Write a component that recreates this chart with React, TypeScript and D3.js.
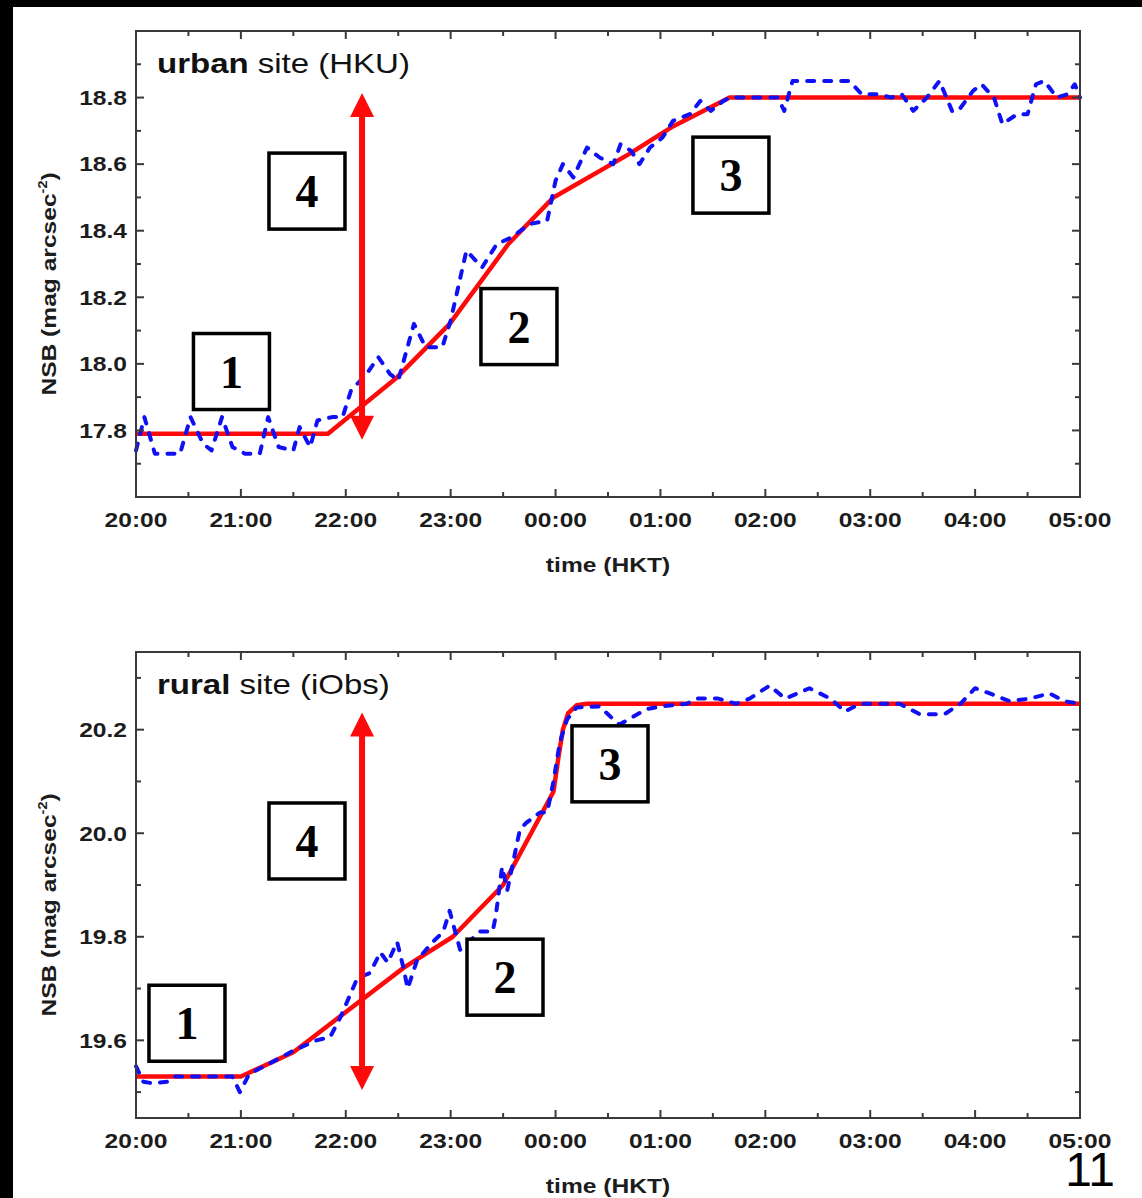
import React from 'react';
import * as d3 from 'd3';

// Hour tick labels (hours after 20:00 HKT)
const hourLabels = ['20:00', '21:00', '22:00', '23:00', '00:00', '01:00', '02:00', '03:00', '04:00', '05:00'];

// Urban site (HKU): measured NSB, [hours after 20:00, mag arcsec^-2]
const urbanObserved: [number, number][] = [
  [0, 17.74], [0.08, 17.84], [0.18, 17.73], [0.42, 17.73], [0.52, 17.84],
  [0.64, 17.76], [0.72, 17.74], [0.82, 17.84], [0.92, 17.75], [1.04, 17.73],
  [1.18, 17.73], [1.26, 17.84], [1.36, 17.75], [1.5, 17.74], [1.56, 17.81],
  [1.66, 17.75], [1.73, 17.83], [1.87, 17.84], [1.97, 17.84], [2.05, 17.92],
  [2.2, 17.97], [2.31, 18.02], [2.42, 17.97], [2.5, 17.95], [2.65, 18.12],
  [2.76, 18.05], [2.92, 18.05], [3.0, 18.13], [3.15, 18.34], [3.3, 18.29],
  [3.44, 18.36], [3.58, 18.38], [3.75, 18.42], [3.92, 18.43], [4.0, 18.55],
  [4.07, 18.6], [4.17, 18.56], [4.3, 18.65], [4.42, 18.62], [4.55, 18.6],
  [4.62, 18.66], [4.72, 18.64], [4.8, 18.6], [4.9, 18.65], [5.02, 18.68],
  [5.12, 18.73], [5.28, 18.75], [5.38, 18.79], [5.48, 18.76], [5.6, 18.79],
  [5.66, 18.8], [6.12, 18.8], [6.18, 18.76], [6.26, 18.85], [6.8, 18.85],
  [6.92, 18.81], [7.08, 18.81], [7.2, 18.8], [7.3, 18.81], [7.41, 18.76],
  [7.54, 18.8], [7.66, 18.85], [7.78, 18.76], [7.84, 18.76], [7.98, 18.82],
  [8.06, 18.84], [8.18, 18.8], [8.26, 18.72], [8.4, 18.75], [8.5, 18.75],
  [8.58, 18.84], [8.66, 18.85], [8.78, 18.8], [8.88, 18.81], [8.95, 18.84],
  [9.0, 18.8],
];

// Urban site: piecewise model
const urbanModel: [number, number][] = [
  [0, 17.79], [1.83, 17.79], [2.49, 17.96], [2.99, 18.12], [3.55, 18.36],
  [3.98, 18.5], [4.7, 18.63], [5.1, 18.71], [5.66, 18.8], [9.0, 18.8],
];

// Rural site (iObs): measured NSB
const ruralObserved: [number, number][] = [
  [0, 19.55], [0.07, 19.52], [0.16, 19.517], [0.3, 19.52], [0.36, 19.53],
  [0.92, 19.53], [0.99, 19.5], [1.08, 19.535], [1.28, 19.556], [1.5, 19.58],
  [1.72, 19.6], [1.85, 19.606], [1.95, 19.645], [2.11, 19.72], [2.23, 19.73],
  [2.33, 19.77], [2.4, 19.75], [2.49, 19.79], [2.55, 19.74], [2.59, 19.7],
  [2.68, 19.755], [2.83, 19.79], [2.93, 19.81], [2.99, 19.85], [3.09, 19.775],
  [3.28, 19.81], [3.4, 19.81], [3.43, 19.84], [3.49, 19.935], [3.54, 19.89],
  [3.66, 20.007], [3.72, 20.02], [3.85, 20.04], [3.92, 20.04], [3.98, 20.1],
  [4.04, 20.175], [4.11, 20.22], [4.2, 20.243], [4.42, 20.245], [4.55, 20.22],
  [4.61, 20.21], [4.74, 20.225], [4.87, 20.24], [5.02, 20.245], [5.25, 20.25],
  [5.35, 20.26], [5.55, 20.26], [5.72, 20.25], [5.85, 20.26], [6.04, 20.285],
  [6.19, 20.26], [6.42, 20.28], [6.62, 20.26], [6.76, 20.235], [6.9, 20.25],
  [7.28, 20.25], [7.47, 20.23], [7.71, 20.23], [7.86, 20.25], [8.0, 20.28],
  [8.14, 20.27], [8.33, 20.255], [8.52, 20.26], [8.71, 20.27], [8.85, 20.255],
  [9.0, 20.25],
];

// Rural site: piecewise model
const ruralModel: [number, number][] = [
  [0, 19.53], [1.0, 19.53], [1.5, 19.577], [2.55, 19.74], [3.02, 19.8],
  [3.5, 19.9], [3.98, 20.08], [4.03, 20.15], [4.07, 20.2], [4.12, 20.232],
  [4.2, 20.247], [4.3, 20.25], [9.0, 20.25],
];

// Phase labels: [label, hours, NSB] at the centre of each box
const urbanPhases: [string, number, number][] = [
  ['1', 0.91, 17.977], ['2', 3.651, 18.112], ['3', 5.672, 18.567], ['4', 1.63, 18.519],
];
const ruralPhases: [string, number, number][] = [
  ['1', 0.486, 19.633], ['2', 3.518, 19.722], ['3', 4.519, 20.134], ['4', 1.63, 19.985],
];

// Double-headed range arrow: [hours, low NSB, high NSB]
const urbanRange: [number, number, number] = [2.155, 17.772, 18.814];
const ruralRange: [number, number, number] = [2.155, 19.504, 20.233];

const PLOT_LEFT = 136;
const PLOT_RIGHT = 1080;
const SX = 1.2; // horizontal stretch of the sans-serif lettering
const AXIS = '#3a3a3a';
const INK = '#1c1c1c';
const SANS = '"Liberation Sans", Arial, sans-serif';
const SERIF = '"Liberation Serif", "Times New Roman", serif';

type PanelProps = {
  top: number;
  bottom: number;
  domain: [number, number];
  majors: number[];
  minors: number[];
  titleBold: string;
  titleRest: string;
  observed: [number, number][];
  model: [number, number][];
  phases: [string, number, number][];
  range: [number, number, number];
};

function Panel(p: PanelProps) {
  const x = d3.scaleLinear().domain([0, 9]).range([PLOT_LEFT, PLOT_RIGHT]);
  const y = d3.scaleLinear().domain(p.domain).range([p.bottom, p.top]);
  const line = d3
    .line<[number, number]>()
    .x((d) => x(d[0]))
    .y((d) => y(d[1]))
    .curve(d3.curveLinear);

  const hourMajors = d3.range(0, 10);
  const hourMinors = d3.range(0.5, 9, 1);
  const MAJ = 8;
  const MIN = 5;

  const [ax, lo, hi] = p.range;
  const axPx = x(ax);
  const yHi = y(hi);
  const yLo = y(lo);
  const head = 24;
  const halfW = 12;
  const BOX = 76;
  const midY = (p.top + p.bottom) / 2 + 20;

  return (
    <g>
      {/* model (red) */}
      <path d={line(p.model) || ''} fill="none" stroke="#ff0a0a" strokeWidth={4.5} strokeLinejoin="round" />
      {/* measurement (blue dashed) */}
      <path
        d={line(p.observed) || ''}
        fill="none"
        stroke="#1010f5"
        strokeWidth={4}
        strokeDasharray="7 10"
        strokeLinecap="round"
        strokeLinejoin="round"
      />

      {/* range arrow */}
      <line x1={axPx} x2={axPx} y1={yHi + head - 2} y2={yLo - head + 2} stroke="#ff0a0a" strokeWidth={6} />
      <polygon points={`${axPx},${yHi} ${axPx - halfW},${yHi + head} ${axPx + halfW},${yHi + head}`} fill="#ff0a0a" />
      <polygon points={`${axPx},${yLo} ${axPx - halfW},${yLo - head} ${axPx + halfW},${yLo - head}`} fill="#ff0a0a" />

      {/* phase boxes */}
      {p.phases.map(([label, h, v]) => (
        <g key={label}>
          <rect x={x(h) - BOX / 2} y={y(v) - BOX / 2} width={BOX} height={BOX} fill="white" stroke="#000" strokeWidth={3.5} />
          <text
            x={x(h)}
            y={y(v) + 16}
            textAnchor="middle"
            fontFamily={SERIF}
            fontWeight="bold"
            fontSize={46}
            fill="#000"
          >
            {label}
          </text>
        </g>
      ))}

      {/* frame */}
      <rect x={PLOT_LEFT} y={p.top} width={PLOT_RIGHT - PLOT_LEFT} height={p.bottom - p.top} fill="none" stroke={AXIS} strokeWidth={2} />

      {/* x ticks (bottom and top, inward) */}
      {hourMajors.map((h) => (
        <g key={'xM' + h}>
          <line x1={x(h)} x2={x(h)} y1={p.bottom} y2={p.bottom - MAJ} stroke={AXIS} strokeWidth={2} />
          <line x1={x(h)} x2={x(h)} y1={p.top} y2={p.top + MAJ} stroke={AXIS} strokeWidth={2} />
          <text
            transform={`translate(${x(h)},${p.bottom + 30}) scale(${SX},1)`}
            textAnchor="middle"
            fontFamily={SANS}
            fontWeight="bold"
            fontSize={20.5}
            fill={INK}
          >
            {hourLabels[h]}
          </text>
        </g>
      ))}
      {hourMinors.map((h) => (
        <g key={'xm' + h}>
          <line x1={x(h)} x2={x(h)} y1={p.bottom} y2={p.bottom - MIN} stroke={AXIS} strokeWidth={2} />
          <line x1={x(h)} x2={x(h)} y1={p.top} y2={p.top + MIN} stroke={AXIS} strokeWidth={2} />
        </g>
      ))}

      {/* y ticks (left and right, inward) */}
      {p.majors.map((v) => (
        <g key={'yM' + v}>
          <line x1={PLOT_LEFT} x2={PLOT_LEFT + MAJ} y1={y(v)} y2={y(v)} stroke={AXIS} strokeWidth={2} />
          <line x1={PLOT_RIGHT} x2={PLOT_RIGHT - MAJ} y1={y(v)} y2={y(v)} stroke={AXIS} strokeWidth={2} />
          <text
            transform={`translate(${PLOT_LEFT - 9},${y(v) + 7.3}) scale(${SX},1)`}
            textAnchor="end"
            fontFamily={SANS}
            fontWeight="bold"
            fontSize={20.5}
            fill={INK}
          >
            {d3.format('.1f')(v)}
          </text>
        </g>
      ))}
      {p.minors.map((v) => (
        <g key={'ym' + v}>
          <line x1={PLOT_LEFT} x2={PLOT_LEFT + MIN} y1={y(v)} y2={y(v)} stroke={AXIS} strokeWidth={2} />
          <line x1={PLOT_RIGHT} x2={PLOT_RIGHT - MIN} y1={y(v)} y2={y(v)} stroke={AXIS} strokeWidth={2} />
        </g>
      ))}

      {/* panel title */}
      <text
        transform={`translate(157,${p.top + 42}) scale(${SX},1)`}
        fontFamily={SANS}
        fontSize={27.5}
        fill="#111"
      >
        <tspan fontWeight="bold">{p.titleBold}</tspan>
        <tspan>{' ' + p.titleRest}</tspan>
      </text>

      {/* axis titles */}
      <text
        transform={`translate(${(PLOT_LEFT + PLOT_RIGHT) / 2},${p.bottom + 75}) scale(${SX},1)`}
        textAnchor="middle"
        fontFamily={SANS}
        fontWeight="bold"
        fontSize={20.5}
        fill={INK}
      >
        time (HKT)
      </text>
      <text
        transform={`translate(56,${midY}) rotate(-90) scale(${SX},1)`}
        textAnchor="middle"
        fontFamily={SANS}
        fontWeight="bold"
        fontSize={20.5}
        fill={INK}
      >
        NSB (mag arcsec
        <tspan fontSize={12} dy={-9}>-2</tspan>
        <tspan dy={9}>)</tspan>
      </text>
    </g>
  );
}

export default function App() {
  return (
    <div style={{ position: 'absolute', left: 0, top: 0 }}>
      <svg width={1142} height={1198} style={{ display: 'block', background: '#fff' }}>
        <rect x={0} y={0} width={1142} height={1198} fill="#fff" />
        <rect x={0} y={0} width={1142} height={7} fill="#000" />
        <rect x={0} y={0} width={13} height={1198} fill="#000" />

        <Panel
          top={31}
          bottom={497}
          domain={[17.6, 19.0]}
          majors={[17.8, 18.0, 18.2, 18.4, 18.6, 18.8]}
          minors={[17.7, 17.9, 18.1, 18.3, 18.5, 18.7, 18.9]}
          titleBold="urban"
          titleRest="site (HKU)"
          observed={urbanObserved}
          model={urbanModel}
          phases={urbanPhases}
          range={urbanRange}
        />
        <Panel
          top={652}
          bottom={1118}
          domain={[19.45, 20.35]}
          majors={[19.6, 19.8, 20.0, 20.2]}
          minors={[19.5, 19.7, 19.9, 20.1, 20.3]}
          titleBold="rural"
          titleRest="site (iObs)"
          observed={ruralObserved}
          model={ruralModel}
          phases={ruralPhases}
          range={ruralRange}
        />

        <text x={1115} y={1186} textAnchor="end" fontFamily={SANS} fontSize={48} fill="#000">
          11
        </text>
      </svg>
    </div>
  );
}
